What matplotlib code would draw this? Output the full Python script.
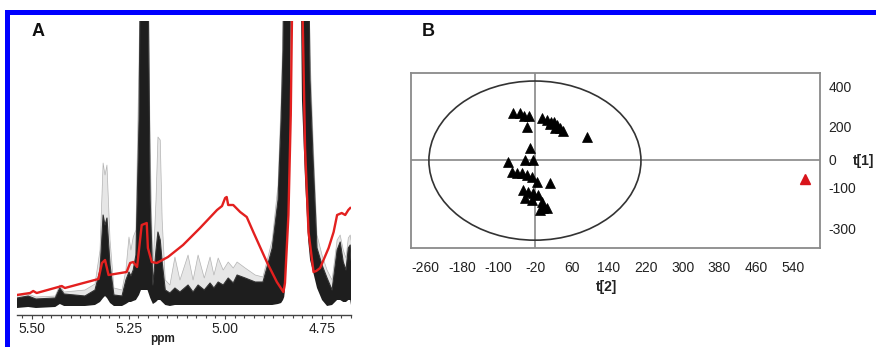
import matplotlib
matplotlib.use("Agg")
import matplotlib.pyplot as plt
from matplotlib.patches import Ellipse, Rectangle
from matplotlib.ticker import MultipleLocator

plt.rcParams['font.family'] = ['Liberation Sans', 'DejaVu Sans']

# ---------------- Panel A data (ppm, intensity a.u.) ----------------
ppm_band = [5.539, 5.510, 5.490, 5.440, 5.428, 5.417, 5.363, 5.337, 5.324, 5.316,
            5.311, 5.306, 5.298, 5.288, 5.267, 5.257, 5.249, 5.244, 5.238, 5.231,
            5.223, 5.218, 5.201, 5.194, 5.187, 5.179, 5.174, 5.168, 5.163, 5.155,
            5.143, 5.130, 5.117, 5.096, 5.083, 5.070, 5.054, 5.039, 5.029, 5.018,
            5.005, 4.992, 4.979, 4.969, 4.948, 4.922, 4.902, 4.878, 4.863, 4.855,
            4.850, 4.847, 4.845, 4.842, 4.837, 4.832, 4.828, 4.816, 4.806, 4.801,
            4.793, 4.785, 4.780, 4.772, 4.762, 4.749, 4.736, 4.723, 4.710, 4.702,
            4.694, 4.687, 4.681, 4.676, 4.674]
band_low = [7, 8, 7, 8, 11, 9, 9, 10, 13, 17,
            19, 17, 12, 9, 9, 11, 13, 13, 14, 15,
            20, 25, 25, 17, 11, 13, 15, 15, 13, 10,
            9, 10, 10, 10, 10, 10, 10, 10, 10, 10,
            10, 10, 10, 10, 10, 10, 10, 10, 11, 12,
            15, 18, 25, 50, 100, 185, 400, 400, 400, 215,
            135, 75, 55, 43, 27, 15, 9, 10, 15, 15,
            13, 13, 15, 15, 10]
band_dense = [17, 19, 16, 17, 27, 21, 19, 25, 45, 100,
              90, 97, 50, 20, 19, 35, 43, 39, 45, 60,
              195, 400, 400, 115, 30, 65, 83, 75, 53, 25,
              22, 27, 23, 30, 23, 30, 25, 32, 27, 33,
              30, 37, 32, 40, 37, 33, 33, 67, 115, 195,
              265, 400, 400, 400, 400, 400, 400, 400, 400, 400,
              400, 400, 235, 155, 67, 50, 37, 25, 65, 73,
              53, 45, 67, 70, 55]
band_faint = [19, 21, 18, 19, 30, 23, 25, 31, 65, 152,
              140, 150, 75, 27, 25, 45, 78, 65, 78, 85,
              255, 400, 400, 165, 45, 115, 178, 175, 95, 35,
              30, 58, 35, 60, 35, 60, 37, 58, 40, 57,
              45, 53, 47, 53, 47, 40, 38, 75, 130, 215,
              290, 400, 400, 400, 400, 400, 400, 400, 400, 400,
              400, 400, 260, 175, 80, 60, 45, 35, 75, 80,
              65, 57, 77, 80, 75]

ppm_red = [5.540, 5.505, 5.497, 5.488, 5.432, 5.423, 5.415, 5.367, 5.328, 5.319,
           5.311, 5.302, 5.255, 5.246, 5.238, 5.228, 5.216, 5.203, 5.200, 5.190,
           5.177, 5.148, 5.109, 5.065, 5.021, 5.008, 5.000, 4.996, 4.992, 4.979,
           4.961, 4.944, 4.927, 4.892, 4.866, 4.849, 4.845, 4.836, 4.830, 4.827,
           4.825, 4.801, 4.799, 4.793, 4.784, 4.771, 4.764, 4.754, 4.732, 4.719,
           4.710, 4.698, 4.689, 4.681, 4.676]
int_red = [20, 22, 24, 22, 28, 29, 27, 32, 36, 52,
           55, 40, 43, 52, 53, 48, 90, 92, 67, 53,
           52, 58, 70, 87, 105, 109, 117, 118, 110, 110,
           103, 98, 83, 53, 33, 23, 32, 100, 200, 293,
           365, 365, 293, 167, 83, 43, 44, 47, 67, 83,
           100, 102, 100, 105, 107]

ppm_ticks = [5.50, 5.25, 5.00, 4.75]

# ---------------- Panel B data (scores) ----------------
t2_samples = [-69, -54, -45, -34, -38, -6, 5, 14, 20, 27, 34, 40, 12, 23, 92,
              -32, -43, -25, -80, -71, -60, -49, -38, -27, -17, 12, -47, -36, -25,
              -43, -27, -14, -6, -4, -10, 5]
t1_samples = [268, 268, 253, 253, 199, 243, 233, 224, 224, 209, 194, 179, 214, 194, 150,
              96, 37, 37, 27, -23, -27, -27, -37, -47, -72, -77, -111, -121, -126,
              -151, -160, -136, -170, -200, -210, -200]
t2_outlier = [566]
t1_outlier = [-57]

ellipse_center = (-21, 34)
ellipse_size = (461, 783)
cross_t2 = -21
cross_t1 = 37

xtick_vals = [-260, -180, -100, -20, 60, 140, 220, 300, 380, 460, 540]
ytick_pos = [400, 200, 37, -100, -300]
ytick_labels = ['400', '200', '0', '-100', '-300']

W, H = 876, 347
fig = plt.figure(figsize=(W / 100, H / 100), dpi=100)

# blue frame
fig.patches.append(Rectangle((5 / W, 1 - 15 / H), 1 - 5 / W, 5 / H, transform=fig.transFigure,
                             color='#0000ff', lw=0, zorder=10))
fig.patches.append(Rectangle((5 / W, 0), 5 / W, 1 - 10 / H, transform=fig.transFigure,
                             color='#0000ff', lw=0, zorder=10))

# ---------------- Panel A ----------------
axA = fig.add_axes([17 / W, 1 - 315 / H, 334 / W, 294 / H])
axA.fill_between(ppm_band, band_dense, band_faint, color='#666666', alpha=0.16, lw=0)
axA.plot(ppm_band, band_faint, color='#8a8a8a', lw=0.5, alpha=0.6)
axA.fill_between(ppm_band, band_low, band_dense, color='#1e1e1e', lw=0)
axA.plot(ppm_band, band_dense, color='#333333', lw=0.8)
axA.plot(ppm_red, int_red, color='#e3201f', lw=1.7, zorder=5)
axA.set_xlim(5.539, 4.674)
axA.set_ylim(0, 294)
for s in ['top', 'right', 'left']:
    axA.spines[s].set_visible(False)
axA.spines['bottom'].set_color('#444444')
axA.spines['bottom'].set_linewidth(1.0)
axA.set_yticks([])
axA.set_xticks(ppm_ticks, ['%.2f' % v for v in ppm_ticks])
axA.xaxis.set_minor_locator(MultipleLocator(0.025))
axA.tick_params(axis='x', which='major', length=3, width=0.8, color='#444444',
                labelsize=10, pad=2, labelcolor='#222222')
axA.tick_params(axis='x', which='minor', length=2, width=0.8, color='#444444')
fig.text(163 / W, 1 - 339 / H, 'ppm', ha='center', va='center', fontsize=8.5,
         fontweight='bold', color='#222222')
fig.text(38 / W, 1 - 32 / H, 'A', ha='center', va='center', fontsize=13,
         fontweight='bold', color='#111111')

# ---------------- Panel B ----------------
axB = fig.add_axes([411 / W, 1 - 248 / H, 409 / W, 175 / H])
axB.set_xlim(-290.4, 598.7)
axB.set_ylim(-396, 465)
axB.axhline(cross_t1, color='#888888', lw=1.2, zorder=1)
axB.axvline(cross_t2, color='#888888', lw=1.2, zorder=1)
axB.add_patch(Ellipse(ellipse_center, ellipse_size[0], ellipse_size[1], fill=False,
                      ec='#333333', lw=1.2, zorder=2))
axB.plot(t2_samples, t1_samples, ls='none', marker='^', ms=7.5, color='black',
         mec='black', mew=0.5, zorder=3)
axB.plot(t2_outlier, t1_outlier, ls='none', marker='^', ms=7.5, color='#d8141b',
         mec='#d8141b', zorder=3)
for s in axB.spines.values():
    s.set_color('#8a8a8a')
    s.set_linewidth(1.3)
axB.yaxis.tick_right()
axB.set_xticks(xtick_vals, [str(v) for v in xtick_vals])
axB.set_yticks(ytick_pos, ytick_labels)
axB.tick_params(axis='x', length=0, pad=9, labelsize=10, labelcolor='#222222')
axB.tick_params(axis='y', length=0, pad=6, labelsize=10, labelcolor='#222222')
fig.text(607 / W, 1 - 287 / H, 't[2]', ha='center', va='center', fontsize=10,
         fontweight='bold', color='#222222')
fig.text(864 / W, 1 - 161 / H, 't[1]', ha='center', va='center', fontsize=10,
         fontweight='bold', color='#222222')
fig.text(428 / W, 1 - 32 / H, 'B', ha='center', va='center', fontsize=13,
         fontweight='bold', color='#111111')

fig.savefig('out.png', dpi=100)
